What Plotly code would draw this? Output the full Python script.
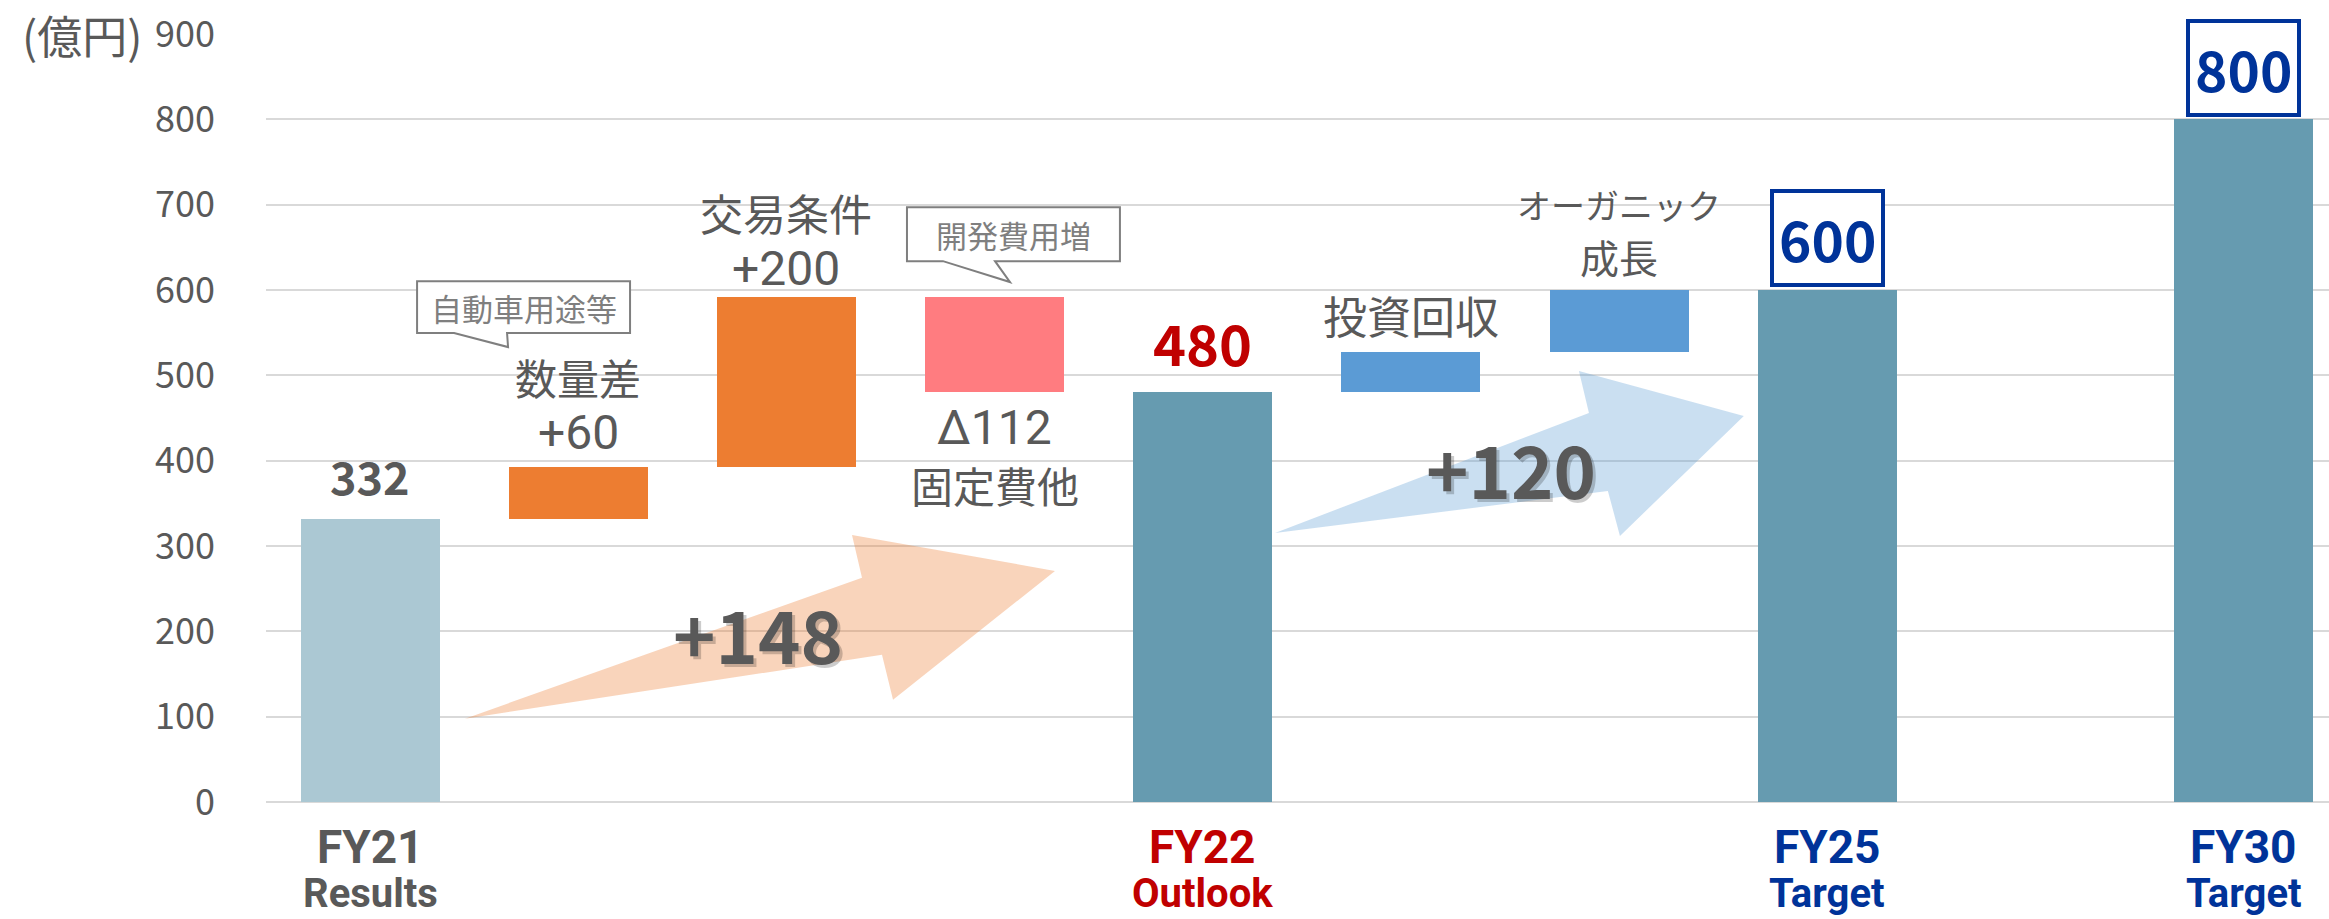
import plotly.graph_objects as go

# ---------------- data ----------------
categories = ["FY21", "数量差", "交易条件", "固定費他", "FY22", "投資回収", "オーガニック成長", "FY25", "", "FY30"]
fy21_value = 332
bridge_1 = [60, 200, -112]          # 数量差, 交易条件, 固定費他
fy22_value = 480
bridge_2 = [47, 73]                 # 投資回収, オーガニック成長
fy25_value = 600
fy30_value = 800
y_ticks = [0, 100, 200, 300, 400, 500, 600, 700, 800, 900]

growth_1 = "+148"
growth_2 = "+120"
callout_1 = "自動車用途等"
callout_2 = "開発費用増"
unit_label = "(億円)"
x_main = ["FY21", "FY22", "FY25", "FY30"]
x_sub = ["Results", "Outlook", "Target", "Target"]

# ---------------- styles ----------------
FONT = "Noto Sans CJK JP"
LATIN = "Roboto, Noto Sans CJK JP"
GRAY = "#595959"
C_FY21 = "#ABC8D3"
C_TOTAL = "#669BB0"
C_UP = "#ED7D31"
C_DOWN = "#FF7C80"
C_BLUE = "#5B9BD5"
RED = "#C00000"
NAVY = "#003399"

pos = {c: i for i, c in enumerate(categories) if c}

# build waterfall bars
xs, bases, heights, colors = [], [], [], []
xs.append(pos["FY21"]); bases.append(0); heights.append(fy21_value); colors.append(C_FY21)
run = fy21_value
tops = {}
for c, d in zip(categories[1:4], bridge_1):
    xs.append(pos[c])
    if d >= 0:
        bases.append(run); heights.append(d); colors.append(C_UP)
    else:
        bases.append(run + d); heights.append(-d); colors.append(C_DOWN)
    run += d
    tops[c] = (bases[-1], bases[-1] + heights[-1])
xs.append(pos["FY22"]); bases.append(0); heights.append(fy22_value); colors.append(C_TOTAL)
run = fy22_value
for c, d in zip(categories[5:7], bridge_2):
    xs.append(pos[c]); bases.append(run); heights.append(d); colors.append(C_BLUE)
    run += d
    tops[c] = (bases[-1], bases[-1] + heights[-1])
xs.append(pos["FY25"]); bases.append(0); heights.append(fy25_value); colors.append(C_TOTAL)
xs.append(pos["FY30"]); bases.append(0); heights.append(fy30_value); colors.append(C_TOTAL)

fig = go.Figure()
fig.add_trace(go.Bar(x=xs, y=heights, base=bases, width=0.668,
                     marker=dict(color=colors, line=dict(width=0)),
                     hoverinfo="skip", showlegend=False))

ann = []

def label(x, y, text, size, color, yshift=0, bold=False, xshift=0, yref="y", family=FONT, **kw):
    t = f"<b>{text}</b>" if bold else text
    d = dict(x=x, y=y, xref="x", yref=yref, text=t, showarrow=False,
             font=dict(family=family, size=size, color=color),
             xanchor="center", yanchor="middle", yshift=yshift, xshift=xshift)
    d.update(kw)
    ann.append(d)

# value labels
label(pos["FY21"], fy21_value, str(fy21_value), 45, GRAY, yshift=43, bold=True)
label(pos["FY22"], fy22_value, str(fy22_value), 56, RED, yshift=51, bold=True)
label(pos["FY25"], fy25_value, str(fy25_value), 55, NAVY, yshift=52, bold=True,
      bordercolor=NAVY, borderwidth=4, borderpad=5, bgcolor="white")
label(pos["FY30"], fy30_value, str(fy30_value), 55, NAVY, yshift=51, bold=True,
      bordercolor=NAVY, borderwidth=4, borderpad=5, bgcolor="white")

# step labels (one annotation per line)
label(pos["数量差"], tops["数量差"][1], "数量差", 42, GRAY, yshift=91)
label(pos["数量差"], tops["数量差"][1], f"+{bridge_1[0]}", 48, GRAY, yshift=35, family=LATIN)
label(pos["交易条件"], tops["交易条件"][1], "交易条件", 43, GRAY, yshift=85)
label(pos["交易条件"], tops["交易条件"][1], f"+{bridge_1[1]}", 48, GRAY, yshift=28, family=LATIN)
label(pos["固定費他"], tops["固定費他"][0], f"Δ{-bridge_1[2]}", 48, GRAY, yshift=-35, family=LATIN)
label(pos["固定費他"], tops["固定費他"][0], "固定費他", 42, GRAY, yshift=-92)
label(pos["投資回収"], tops["投資回収"][1], "投資回収", 44, GRAY, yshift=37)
label(pos["オーガニック成長"], tops["オーガニック成長"][1], "オーガニック", 34, GRAY, yshift=86)
label(pos["オーガニック成長"], tops["オーガニック成長"][1], "成長", 39, GRAY, yshift=34)

# growth arrows (decorative)
def path(pts):
    return "M " + " L ".join(f"{a},{b}" for a, b in pts) + " Z"

arrow_1 = [(0.456, 97.7), (2.363, 262.8), (2.315, 313.0), (3.29, 270.8), (2.512, 119.8), (2.459, 172.5)]
arrow_2 = [(4.347, 315.3), (5.855, 455.9), (5.807, 505.0), (6.599, 452.4), (6.004, 311.8), (5.946, 364.5)]
shapes = [
    dict(type="path", path=path(arrow_1), xref="x", yref="y", fillcolor="rgba(237,125,49,0.33)",
         line=dict(width=0), layer="above"),
    dict(type="path", path=path(arrow_2), xref="x", yref="y", fillcolor="rgba(91,155,213,0.32)",
         line=dict(width=0), layer="above"),
]

for (gx, gy, txt) in [(1.864, 198.4, growth_1), (5.481, 391.8, growth_2)]:
    label(gx, gy, txt, 72, "rgba(0,0,0,0.2)", xshift=3, yshift=-3, bold=True)
    label(gx, gy, txt, 72, GRAY, bold=True)

# callouts
box_1 = [(0.2257, 610.4), (1.2488, 610.4), (1.2488, 549.5), (0.658, 549.5), (0.6628, 533.1),
         (0.4035, 549.5), (0.2257, 549.5)]
box_2 = [(2.579, 697.1), (3.602, 697.1), (3.602, 633.8), (3.002, 633.8), (3.074, 609.3),
         (2.752, 633.8), (2.579, 633.8)]
for b in (box_1, box_2):
    shapes.append(dict(type="path", path=path(b), xref="x", yref="y", fillcolor="white",
                       line=dict(color="#7F7F7F", width=2), layer="above"))
label(0.737, 580, callout_1, 31, "#7F7F7F")
label(3.091, 665.5, callout_2, 31, "#7F7F7F")

# category labels (below the axis, paper-referenced)
main_colors = [GRAY, RED, NAVY, NAVY]
for name, sub, col in zip(x_main, x_sub, main_colors):
    label(pos[name], -0.058, name, 46, col, bold=True, yref="paper", family=LATIN)
    label(pos[name], -0.1195, sub, 40, col, bold=True, yref="paper", family=LATIN)

# unit label
ann.append(dict(x=-0.0591, y=900, xref="paper", yref="y", text=unit_label, showarrow=False,
                xanchor="right", yanchor="middle",
                font=dict(family=FONT, size=45, color=GRAY)))

fig.update_layout(
    width=2329, height=919,
    margin=dict(l=266, r=0, t=34, b=117, pad=0),
    plot_bgcolor="white", paper_bgcolor="white",
    bargap=0,
    annotations=ann, shapes=shapes,
    xaxis=dict(range=[-0.5, 9.41], showticklabels=False, showgrid=False, zeroline=False,
               showline=False, ticks=""),
    yaxis=dict(range=[0, 900], tickvals=y_ticks, showgrid=True, gridcolor="#D9D9D9", gridwidth=2,
               zeroline=True, zerolinecolor="#D9D9D9", zerolinewidth=2, showline=False,
               tickfont=dict(family=FONT, size=36, color=GRAY), ticklabelstandoff=50),
    font=dict(family=FONT, color=GRAY),
)

fig.write_html("out.html", config={"displayModeBar": False},
               post_script="document.body.style.margin='0';document.body.style.overflow='hidden';")
